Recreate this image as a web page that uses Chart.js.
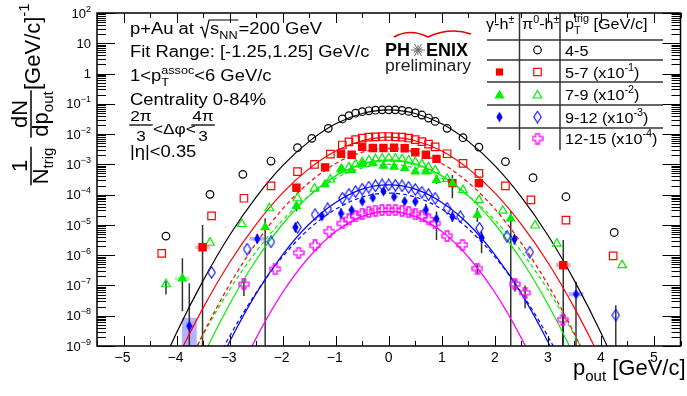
<!DOCTYPE html>
<html>
<head>
<meta charset="utf-8">
<script src="https://cdn.jsdelivr.net/npm/chart.js@4.4.1/dist/chart.umd.min.js"></script>
<style>
  html, body { margin: 0; padding: 0; background: #fff; }
</style>
</head>
<body>
<canvas id="chart" width="687" height="396"></canvas>
<script>
// values are log10 of 1/Ntrig dN/dp_out, already scaled as in the legend
const pi45X = [-4.2, -3.37, -2.75, -2.22, -1.72, -1.45, -1.14, -0.875, -0.75, -0.625, -0.5, -0.375, -0.25, -0.125, 0, 0.125, 0.25, 0.375, 0.5, 0.625, 0.75, 0.875, 1.1, 1.4, 1.7, 2.2, 2.72, 3.34, 4.25];
const pi45Log = [-5.37, -3.99, -3.33, -2.89, -2.45, -2.14, -1.81, -1.5, -1.39, -1.31, -1.26, -1.23, -1.21, -1.2, -1.2, -1.2, -1.22, -1.25, -1.3, -1.37, -1.47, -1.58, -1.81, -2.12, -2.43, -2.91, -3.44, -4.07, -5.25];

const pi57X = [-4.28, -3.34, -2.73, -2.22, -1.72, -1.4, -1.1, -0.875, -0.75, -0.625, -0.5, -0.375, -0.25, -0.125, 0, 0.125, 0.25, 0.375, 0.5, 0.625, 0.75, 0.875, 1.1, 1.4, 1.7, 2.2, 2.68, 3.34, 4.23];
const pi57Log = [-5.94, -4.7, -4.12, -3.71, -3.24, -3.0, -2.66, -2.36, -2.26, -2.18, -2.13, -2.1, -2.09, -2.08, -2.08, -2.09, -2.1, -2.13, -2.18, -2.25, -2.33, -2.42, -2.65, -2.97, -3.3, -3.71, -4.17, -4.84, -6.02];

const gam57X = [-3.51, -1.74, -1.2, -0.9, -0.7, -0.5, -0.3, -0.1, 0.1, 0.3, 0.5, 0.7, 0.9, 1.2, 1.7, 3.29];
const gam57Log = [-5.74, -3.77, -3.1, -2.65, -2.68, -2.42, -2.46, -2.46, -2.45, -2.47, -2.6, -2.68, -2.82, -3.62, -3.62, -6.33];

const pi79X = [-4.2, -3.37, -2.77, -2.25, -1.72, -1.4, -1.1, -0.875, -0.75, -0.625, -0.5, -0.375, -0.25, -0.125, 0, 0.125, 0.25, 0.375, 0.5, 0.625, 0.75, 0.875, 1.1, 1.4, 1.7, 2.15, 2.76, 3.17, 4.4];
const pi79Log = [-6.96, -5.59, -4.97, -4.45, -4.12, -3.8, -3.5, -3.2, -3.1, -3.0, -2.93, -2.87, -2.83, -2.81, -2.8, -2.81, -2.83, -2.87, -2.93, -3.0, -3.09, -3.2, -3.48, -3.85, -4.18, -4.53, -5.02, -5.62, -6.33];

const gam79X = [-3.89, -2.33, -1.74, -1.2, -0.9, -0.7, -0.5, -0.3, -0.1, 0.1, 0.3, 0.5, 0.7, 0.9, 1.2, 1.67, 2.3];
const gam79Log = [-6.77, -5.08, -4.38, -3.66, -3.15, -3.19, -3.0, -2.97, -3.05, -3.08, -3.13, -3.24, -3.24, -3.52, -3.63, -4.67, -4.79];

const pi912X = [-3.34, -2.67, -2.22, -1.72, -1.39, -1.15, -0.875, -0.75, -0.625, -0.5, -0.375, -0.25, -0.125, 0, 0.125, 0.25, 0.375, 0.5, 0.625, 0.75, 0.875, 1.1, 1.35, 1.71, 2.23, 2.66, 4.28];
const pi912Log = [-6.57, -5.8, -5.56, -5.08, -4.66, -4.47, -4.12, -3.99, -3.9, -3.82, -3.75, -3.71, -3.68, -3.68, -3.69, -3.71, -3.76, -3.83, -3.92, -4.0, -4.12, -4.45, -4.73, -5.11, -5.38, -5.9, -7.98];

const gam912X = [-3.76, -2.48, -1.76, -1.26, -0.9, -0.7, -0.5, -0.3, -0.1, 0.1, 0.3, 0.5, 0.7, 0.9, 1.2, 1.75, 2.37, 3.53];
const gam912Log = [-8.34, -5.46, -5.08, -4.71, -4.62, -4.51, -4.22, -4.1, -3.89, -4.07, -4.22, -4.23, -4.5, -4.8, -4.73, -5.42, -5.47, -7.29];

const pi1215X = [-2.73, -2.14, -1.7, -1.39, -1.12, -0.875, -0.75, -0.625, -0.5, -0.375, -0.25, -0.125, 0, 0.125, 0.25, 0.375, 0.5, 0.625, 0.75, 0.875, 1.1, 1.39, 1.67, 2.38, 2.57, 3.28];
const pi1215Log = [-6.96, -6.46, -5.92, -5.68, -5.22, -4.95, -4.82, -4.72, -4.63, -4.57, -4.53, -4.51, -4.51, -4.51, -4.53, -4.58, -4.65, -4.72, -4.82, -4.95, -5.37, -5.66, -6.44, -6.96, -7.24, -8.13];

// gaussian fits, every 0.5 GeV/c
const fitX = [-4.5, -4, -3.5, -3, -2.5, -2, -1.5, -1, -0.5, 0, 0.5, 1, 1.5, 2, 2.5, 3, 3.5, 4, 4.5];
const fitPi45 = [-10.52, -8.56, -6.84, -5.34, -4.08, -3.04, -2.24, -1.66, -1.32, -1.2, -1.32, -1.66, -2.24, -3.04, -4.08, -5.34, -6.84, -8.56, -10.52];
const fitPi57 = [-11.42, -9.46, -7.74, -6.24, -4.98, -3.94, -3.14, -2.56, -2.22, -2.1, -2.22, -2.56, -3.14, -3.94, -4.98, -6.24, -7.74, -9.46, -11.42];
const fitGam57 = [-12.6, -10.47, -8.6, -6.97, -5.6, -4.47, -3.6, -2.97, -2.6, -2.47, -2.6, -2.97, -3.6, -4.47, -5.6, -6.97, -8.6, -10.47, -12.6];
const fitPi79 = [-13.58, -11.33, -9.34, -7.62, -6.16, -4.97, -4.04, -3.38, -2.98, -2.85, -2.98, -3.38, -4.04, -4.97, -6.16, -7.62, -9.34, -11.33, -13.58];
const fitGam79 = [-12.32, -10.36, -8.64, -7.14, -5.88, -4.84, -4.04, -3.46, -3.12, -3.0, -3.12, -3.46, -4.04, -4.84, -5.88, -7.14, -8.64, -10.36, -12.32];
const fitPi912 = [-15.32, -12.88, -10.72, -8.86, -7.27, -5.98, -4.97, -4.26, -3.82, -3.68, -3.82, -4.26, -4.97, -5.98, -7.27, -8.86, -10.72, -12.88, -15.32];
const fitGam912 = [-14.6, -12.37, -10.39, -8.68, -7.24, -6.05, -5.13, -4.48, -4.08, -3.95, -4.08, -4.48, -5.13, -6.05, -7.24, -8.68, -10.39, -12.37, -14.6];
const fitPi1215 = [-18.12, -15.27, -12.76, -10.58, -8.74, -7.23, -6.06, -5.22, -4.72, -4.55, -4.72, -5.22, -6.06, -7.23, -8.74, -10.58, -12.76, -15.27, -18.12];

// statistical error bars [x, low, high] (log10), -10 = runs off the bottom
const errGam57 = [[-3.51, -10, -5.0], [-1.74, -3.92, -3.64], [-1.2, -3.2, -3.0], [1.2, -4.12, -3.35], [1.7, -3.76, -3.5], [3.29, -10, -5.5]];
const errGam79 = [[-3.89, -7.85, -6.1], [-2.33, -10, -4.78], [-1.74, -4.55, -4.22], [0.9, -3.65, -3.4], [1.2, -3.78, -3.5], [1.67, -4.9, -4.45], [2.3, -10, -4.55]];
const errGam912 = [[-3.76, -10, -6.93], [-2.48, -5.62, -5.3], [-1.76, -5.25, -4.92], [-1.26, -4.85, -4.6], [-0.9, -4.8, -4.45], [0.7, -4.7, -4.3], [0.9, -5.5, -4.56], [1.2, -4.9, -4.55], [1.75, -5.94, -5.22], [2.37, -5.65, -5.3], [3.53, -10, -6.88]];
const errPi79 = [[-4.2, -7.3, -6.85]];
const errPi912 = [[4.28, -10, -7.65]];
const errPi1215 = [[-2.73, -7.35, -6.8], [1.67, -6.6, -6.3], [2.38, -7.2, -6.8], [2.57, -7.75, -7.0], [3.28, -10, -7.95]];

// systematic boxes [x, low, high] (log10)
const sysGam57 = [[-3.51, -5.8, -5.68], [3.29, -6.4, -6.26]];
const sysGam79 = [[-3.89, -6.83, -6.71]];
const sysGam912 = [[-3.76, -10, -8.07], [-2.48, -5.52, -5.4], [3.53, -7.36, -7.22]];

const xTicks = [-5, -4, -3, -2, -1, 0, 1, 2, 3, 4, 5];
const yDecades = [-9, -8, -7, -6, -5, -4, -3, -2, -1, 0, 1, 2];

const legendRows = [
  { range: '4-5', scale: '' },
  { range: '5-7 (x10', scale: '-1' },
  { range: '7-9 (x10', scale: '-2' },
  { range: '9-12 (x10', scale: '-3' },
  { range: '12-15 (x10', scale: '-4' }
];

const FAM = '"Liberation Sans", Arial, Helvetica, sans-serif';
const font = (sz, bold) => (bold ? 'bold ' : '') + sz + 'px ' + FAM;
const RED = '#ff0000', GREEN = '#00ee00', BLUE = '#0000ff', MAG = '#ff00ff';

const pts = (xs, ls) => xs.map((x, i) => ({ x: x, y: Math.pow(10, ls[i]) }));

function mk(w, h, draw) {
  const c = document.createElement('canvas');
  c.width = w; c.height = h;
  draw(c.getContext('2d'));
  return c;
}
const diamondFilled = mk(7, 11, g => {
  g.fillStyle = BLUE;
  g.beginPath(); g.moveTo(3.5, 0.3); g.lineTo(6.7, 5.5); g.lineTo(3.5, 10.7); g.lineTo(0.3, 5.5); g.closePath(); g.fill();
});
const diamondOpen = mk(9, 13, g => {
  g.strokeStyle = BLUE; g.lineWidth = 1.1;
  g.beginPath(); g.moveTo(4.5, 0.8); g.lineTo(8.2, 6.5); g.lineTo(4.5, 12.2); g.lineTo(0.8, 6.5); g.closePath(); g.stroke();
});
const openCross = mk(12, 12, g => {
  const c = 6, a = 1.8, r = 5;
  g.strokeStyle = MAG; g.lineWidth = 1.3;
  g.beginPath();
  g.moveTo(c - a, c - r); g.lineTo(c + a, c - r); g.lineTo(c + a, c - a); g.lineTo(c + r, c - a);
  g.lineTo(c + r, c + a); g.lineTo(c + a, c + a); g.lineTo(c + a, c + r); g.lineTo(c - a, c + r);
  g.lineTo(c - a, c + a); g.lineTo(c - r, c + a); g.lineTo(c - r, c - a); g.lineTo(c - a, c - a);
  g.closePath(); g.stroke();
});

// text runs: [text, size, dy, keepX, bold]; sx stretches glyphs sideways
function run(ctx, x, y, segs, sx = 1) {
  let cx = x;
  for (const s of segs) {
    const [t, sz, dy = 0, keep = false, bold = false] = s;
    ctx.font = font(sz, bold);
    ctx.save();
    ctx.translate(cx, y + dy);
    ctx.scale(sx, 1);
    ctx.fillText(t, 0, 0);
    ctx.restore();
    if (!keep) cx += ctx.measureText(t).width * sx;
  }
  return cx;
}
function runW(ctx, segs, sx = 1) {
  let w = 0;
  for (const s of segs) {
    const [t, sz, , keep = false, bold = false] = s;
    ctx.font = font(sz, bold);
    if (!keep) w += ctx.measureText(t).width * sx;
  }
  return w;
}
function hline(ctx, x0, x1, y) { ctx.beginPath(); ctx.moveTo(x0, y); ctx.lineTo(x1, y); ctx.stroke(); }
function vline(ctx, x, y0, y1) { ctx.beginPath(); ctx.moveTo(x, y0); ctx.lineTo(x, y1); ctx.stroke(); }

function marker(ctx, type, x, y) {
  const H = Chart.helpers;
  ctx.save();
  ctx.lineWidth = 1.2;
  if (type === 'circle') { ctx.strokeStyle = '#000'; ctx.beginPath(); ctx.arc(x, y, 3.8, 0, Math.PI * 2); ctx.stroke(); }
  else if (type === 'sqF') { ctx.fillStyle = RED; ctx.fillRect(x - 3.6, y - 3.6, 7.2, 7.2); }
  else if (type === 'sqO') { ctx.strokeStyle = RED; ctx.strokeRect(x - 3.7, y - 3.7, 7.4, 7.4); }
  else if (type === 'triF') { ctx.fillStyle = GREEN; ctx.strokeStyle = GREEN; H.drawPoint(ctx, { pointStyle: 'triangle', radius: 4.6, rotation: 0, borderWidth: 1 }, x, y); }
  else if (type === 'triO') { ctx.fillStyle = 'rgba(0,0,0,0)'; ctx.strokeStyle = GREEN; H.drawPoint(ctx, { pointStyle: 'triangle', radius: 5, rotation: 0, borderWidth: 1.2 }, x, y); }
  else if (type === 'diaF') ctx.drawImage(diamondFilled, x - 3.5, y - 5.5);
  else if (type === 'diaO') ctx.drawImage(diamondOpen, x - 4.5, y - 6.5);
  else if (type === 'cross') ctx.drawImage(openCross, x - 6, y - 6);
  ctx.restore();
}

const deco = {
  id: 'deco',
  beforeDatasetsDraw(chart) {
    const { ctx, chartArea: a, scales: { x, y } } = chart;
    ctx.save();
    ctx.beginPath(); ctx.rect(a.left, a.top, a.right - a.left, a.bottom - a.top); ctx.clip();
    const boxes = [[sysGam57, 'rgba(255,0,0,0.3)'], [sysGam79, 'rgba(0,230,0,0.3)'], [sysGam912, 'rgba(0,0,255,0.3)']];
    for (const [list, col] of boxes) {
      ctx.fillStyle = col;
      for (const [bx, lo, hi] of list) {
        const x0 = x.getPixelForValue(bx - 0.14), x1 = x.getPixelForValue(bx + 0.14);
        const y0 = y.getPixelForValue(Math.pow(10, hi)), y1 = y.getPixelForValue(Math.pow(10, lo));
        ctx.fillRect(x0, y0, x1 - x0, y1 - y0);
      }
    }
    ctx.strokeStyle = '#333'; ctx.lineWidth = 1.5;
    for (const list of [errGam57, errGam79, errGam912, errPi79, errPi912, errPi1215]) {
      for (const [ex, lo, hi] of list) {
        vline(ctx, x.getPixelForValue(ex), y.getPixelForValue(Math.pow(10, lo)), y.getPixelForValue(Math.pow(10, hi)));
      }
    }
    ctx.restore();
  },
  afterDraw(chart) {
    const { ctx, chartArea: a, scales: { x, y } } = chart;
    ctx.save();
    ctx.fillStyle = '#000';
    ctx.strokeStyle = '#000';

    // frame and inward ticks
    ctx.lineWidth = 1.5;
    ctx.strokeRect(a.left, a.top, a.right - a.left, a.bottom - a.top);
    ctx.lineWidth = 1;
    for (const v of xTicks) {
      for (const [d, L] of [[0, 10], [0.5, 5], [-0.5, 5]]) {
        if (d === -0.5 && v !== -5) continue;
        const px = Math.round(x.getPixelForValue(v + d)) + 0.5;
        vline(ctx, px, a.bottom, a.bottom - L);
        vline(ctx, px, a.top, a.top + L);
      }
      const lab = v < 0 ? '\u2212' + (-v) : String(v);
      ctx.font = font(14);
      ctx.textAlign = 'center';
      ctx.fillText(lab, x.getPixelForValue(v) - (v < 0 ? 1 : 0), 362);
      ctx.textAlign = 'left';
    }
    for (const e of yDecades) {
      const py = Math.round(y.getPixelForValue(Math.pow(10, e))) + 0.5;
      hline(ctx, a.left, a.left + 18, py);
      hline(ctx, a.right - 18, a.right, py);
      if (e < 2) {
        for (let k = 2; k <= 9; k++) {
          const pm = Math.round(y.getPixelForValue(k * Math.pow(10, e))) + 0.5;
          hline(ctx, a.left, a.left + 9, pm);
          hline(ctx, a.right - 9, a.right, pm);
        }
      }
      const segs = e === 0 ? [['1', 13]] : e === 1 ? [['10', 13]] : [['10', 13], [String(e).replace('-', '\u2212'), 9, -6]];
      const w = runW(ctx, segs);
      run(ctx, 91 - w, y.getPixelForValue(Math.pow(10, e)) + 4.6, segs);
    }

    // axis titles
    run(ctx, 573, 375, [['p', 22], ['out', 15, 6], [' [GeV/c]', 22]]);

    ctx.save();
    ctx.rotate(-Math.PI / 2);
    const frac = (num, den, cu, vNum, vBar, vDen) => {
      const wn = runW(ctx, num), wd = runW(ctx, den), wb = Math.max(wn, wd) + 2;
      run(ctx, cu - wn / 2, vNum, num);
      run(ctx, cu - wd / 2, vDen, den);
      ctx.lineWidth = 1.5;
      hline(ctx, cu - wb / 2, cu + wb / 2, vBar);
    };
    frac([['1', 22]], [['N', 22], ['trig', 15, 5]], -166, 27, 31, 48);
    frac([['dN', 22]], [['dp', 22], ['out', 15, 5]], -114, 27, 31, 48);
    run(ctx, -90, 40, [['[GeV/c]', 22], ['-1', 15, -11]]);
    ctx.restore();

    // annotation text
    const T = 16, SX = 1.15;
    let xx = run(ctx, 130, 34, [['p+Au at ', T]], SX);
    ctx.lineWidth = 1.2;
    ctx.beginPath();
    ctx.moveTo(xx + 1, 28); ctx.lineTo(xx + 3, 27); ctx.lineTo(xx + 6, 37); ctx.lineTo(xx + 10, 20);
    const sEnd = run(ctx, xx + 11, 34, [['s', T], ['NN', 11, 5]], SX);
    ctx.lineTo(sEnd + 1, 20); ctx.stroke();
    run(ctx, sEnd + 1, 34, [['=200 GeV', T]], SX);
    run(ctx, 130, 57, [['Fit Range: [-1.25,1.25] GeV/c', T]], SX);
    run(ctx, 130, 81, [['1<p', T], ['T', 11, 5, true], ['assoc', 11, -7], ['<6 GeV/c', T]], SX);
    run(ctx, 130, 105, [['Centrality 0-84%', T]], SX);
    const fr = (cx, t) => {
      const w = runW(ctx, [[t, 15]], SX);
      run(ctx, cx - w / 2, 121, [[t, 15]], SX);
      const w3 = runW(ctx, [['3', 15]], SX);
      run(ctx, cx - w3 / 2, 141, [['3', 15]], SX);
      ctx.lineWidth = 1.3; hline(ctx, cx - w / 2 - 1, cx + w / 2 + 1, 125);
    };
    fr(141, '2\u03c0');
    run(ctx, 153, 134, [['<\u0394\u03c6<', 15]], SX);
    fr(203, '4\u03c0');
    run(ctx, 130, 157, [['|\u03b7|<0.35', T]], SX);

    // PHENIX mark
    run(ctx, 385, 56, [['PH', 18, 0, false, true]]);
    run(ctx, 426, 56, [['ENIX', 18, 0, false, true]]);
    ctx.strokeStyle = '#666'; ctx.lineWidth = 1;
    for (let i = 0; i < 12; i++) {
      const ang = i * Math.PI / 6, r = i % 2 ? 5 : 7;
      ctx.beginPath(); ctx.moveTo(418, 50); ctx.lineTo(418 + r * Math.cos(ang), 50 + r * Math.sin(ang)); ctx.stroke();
    }
    ctx.strokeStyle = '#e00000'; ctx.lineWidth = 1.5;
    ctx.beginPath(); ctx.moveTo(394, 37); ctx.quadraticCurveTo(410, 28, 428, 37); ctx.quadraticCurveTo(450, 27, 471, 34); ctx.stroke();
    ctx.fillStyle = '#222';
    run(ctx, 385, 71, [['preliminary', 16]], 1.1);
    ctx.fillStyle = '#000';

    // legend table
    const LS = 1.08;
    ctx.strokeStyle = '#333'; ctx.lineWidth = 1.5;
    for (const ly of [40, 60, 82, 105, 128]) hline(ctx, 487, 663, ly);
    vline(ctx, 519.5, a.top, 150);
    vline(ctx, 560, a.top, 150);
    run(ctx, 486, 29, [['\u03b3-h', 15], ['\u00b1', 10, -6]], LS);
    run(ctx, 522, 29, [['\u03c0', 15], ['0', 10, -6], ['-h', 15], ['\u00b1', 10, -6]], LS);
    run(ctx, 565, 29, [['p', 15], ['T', 10, 5, true], ['trig', 10, -7], [' [GeV/c]', 15]], LS);
    const rowY = [50, 72, 94.5, 117, 138.5];
    legendRows.forEach((r, i) => {
      const segs = r.scale ? [[r.range, 15], [r.scale, 10, -7], [')', 15]] : [[r.range, 15]];
      run(ctx, 565, rowY[i] + 5.5, segs, LS);
    });
    marker(ctx, 'circle', 537.5, rowY[0]);
    marker(ctx, 'sqF', 499.5, rowY[1]); marker(ctx, 'sqO', 537.5, rowY[1]);
    marker(ctx, 'triF', 499.5, rowY[2] + 1); marker(ctx, 'triO', 537.5, rowY[2] + 1);
    marker(ctx, 'diaF', 499.5, rowY[3]); marker(ctx, 'diaO', 537.5, rowY[3]);
    marker(ctx, 'cross', 537.5, rowY[4]);
    ctx.restore();
  }
};

const markerSet = (label, xs, ls, style) => Object.assign({ label: label, data: pts(xs, ls), showLine: false, borderWidth: 1.2 }, style);
const fitLine = (label, ls, color, dashed) => ({
  label: label, data: pts(fitX, ls), showLine: true, pointRadius: 0, borderColor: color,
  borderWidth: 1.2, borderDash: dashed ? [4, 3] : [], cubicInterpolationMode: 'monotone', fill: false
});

new Chart(document.getElementById('chart'), {
  type: 'scatter',
  data: {
    datasets: [
      markerSet('gamma-h 9-12', gam912X, gam912Log, { pointStyle: diamondFilled, pointRadius: 4 }),
      markerSet('gamma-h 7-9', gam79X, gam79Log, { pointStyle: 'triangle', pointRadius: 4.6, backgroundColor: GREEN, borderColor: GREEN }),
      markerSet('gamma-h 5-7', gam57X, gam57Log, { pointStyle: 'rect', pointRadius: 5.1, backgroundColor: RED, borderColor: RED }),
      markerSet('pi0-h 4-5', pi45X, pi45Log, { pointStyle: 'circle', pointRadius: 3.8, backgroundColor: 'rgba(0,0,0,0)', borderColor: '#000' }),
      markerSet('pi0-h 5-7', pi57X, pi57Log, { pointStyle: 'rect', pointRadius: 5.3, backgroundColor: 'rgba(0,0,0,0)', borderColor: RED }),
      markerSet('pi0-h 7-9', pi79X, pi79Log, { pointStyle: 'triangle', pointRadius: 5, backgroundColor: 'rgba(0,0,0,0)', borderColor: GREEN }),
      markerSet('pi0-h 9-12', pi912X, pi912Log, { pointStyle: diamondOpen, pointRadius: 4 }),
      markerSet('pi0-h 12-15', pi1215X, pi1215Log, { pointStyle: openCross, pointRadius: 4 }),
      fitLine('fit pi0 4-5', fitPi45, '#000', false),
      fitLine('fit pi0 5-7', fitPi57, RED, false),
      fitLine('fit gamma 5-7', fitGam57, RED, true),
      fitLine('fit pi0 7-9', fitPi79, GREEN, false),
      fitLine('fit gamma 7-9', fitGam79, GREEN, true),
      fitLine('fit pi0 9-12', fitPi912, BLUE, false),
      fitLine('fit gamma 9-12', fitGam912, BLUE, true),
      fitLine('fit pi0 12-15', fitPi1215, MAG, false)
    ]
  },
  options: {
    responsive: false,
    animation: false,
    devicePixelRatio: 1,
    events: [],
    layout: { padding: { left: 97, right: 2, top: 13, bottom: 0 } },
    plugins: { legend: { display: false }, tooltip: { enabled: false } },
    scales: {
      x: {
        type: 'linear', min: -5.5, max: 5.5,
        grid: { display: false, drawTicks: false },
        border: { display: false },
        ticks: { display: false },
        afterFit: s => { s.height = 50; }
      },
      y: {
        type: 'logarithmic', min: 1e-9, max: 1e2, display: false
      }
    }
  },
  plugins: [deco]
});
</script>
</body>
</html>
